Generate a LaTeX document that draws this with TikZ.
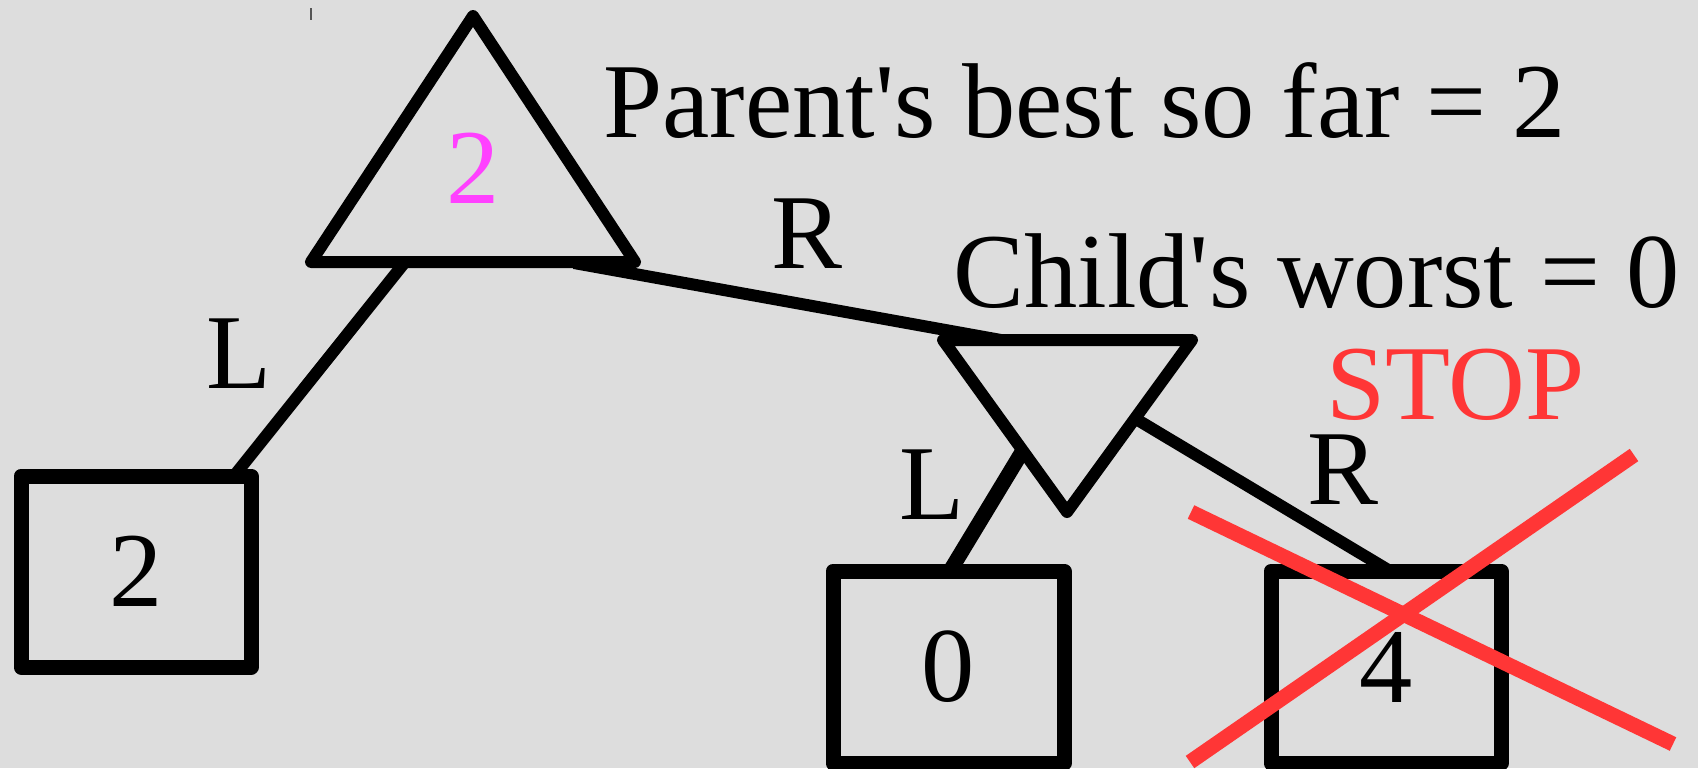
\documentclass[tikz,border=0pt]{standalone}
\usepackage{fontspec}
\newfontfamily\lib{Liberation Serif}
\definecolor{bg}{HTML}{DDDDDD}
\definecolor{mag}{HTML}{FF40FF}
\definecolor{stopred}{HTML}{FF3636}
\definecolor{tickgray}{HTML}{555555}
\begin{document}
\begin{tikzpicture}[x=0.5pt,y=-0.5pt,
  big/.style={font=\lib\fontsize{53.2}{60}\selectfont, inner sep=0pt},
  box/.style={big, draw, line width=7.5pt, line join=round},
  tri/.style={draw, line width=6pt, line join=round},
  edge/.style={line width=6pt},
  thickedge/.style={line width=7.5pt},
  redx/.style={draw=stopred, line width=7.5pt}]
\fill[bg] (0,0) rectangle (1698,768);
\useasboundingbox (0,0) rectangle (1698,768);

% tick mark
\coordinate (tk1) at (311,8);
\coordinate (tk2) at (311,20);
\draw[line width=1pt, tickgray] (tk1) -- (tk2);

% boxes
\node[box, minimum width=115pt, minimum height=95.5pt] (b2) at (136,571.5) {2};
\node[box, minimum width=115.5pt, minimum height=96pt] (b0) at (948.5,667) {0};
\node[box, minimum width=115pt, minimum height=96pt] (b4) at (1386,667) {4};

% triangle 1
\coordinate (t1a) at (473,16);
\coordinate (t1l) at (311,262);
\coordinate (t1r) at (635,262);
% triangle 2
\coordinate (t2l) at (943,340);
\coordinate (t2r) at (1192,340);
\coordinate (t2b) at (1067,512);

% edges
\coordinate (e1s) at (405,262);
\coordinate (e1t) at (234,476);
\draw[edge] (e1s) -- (e1t);
\coordinate (e2s) at (574,263);
\coordinate (e2t) at (1001,340);
\draw[edge] (e2s) -- (e2t);
\coordinate (e3s) at (1022,452);
\coordinate (e3t) at (950,571);
\draw[thickedge] (e3s) -- (e3t);
\coordinate (e4s) at (1136,419);
\coordinate (e4t) at (1390,571);
\draw[edge] (e4s) -- (e4t);

\draw[tri] (t1a) -- (t1r) -- (t1l) -- cycle;
\draw[tri] (t2l) -- (t2r) -- (t2b) -- cycle;
\node[big, text=mag] (v1) at (473,168) {2};

% labels
\node[big, anchor=base west] (pbest) at (603,137) {Parent's best so far = 2};
\node[big, anchor=base west] (rup) at (771,268) {R};
\node[big, anchor=base west] (cworst) at (953,307) {Child's worst = 0};
\node[big, anchor=base west] (lup) at (206,388) {L};
\node[big, anchor=base west] (llow) at (899,519) {L};
\node[big, anchor=base west] (rlow) at (1307,504) {R};
\node[big, anchor=base west, text=stopred] (stop) at (1326,419) {STOP};

% red cross
\coordinate (x1a) at (1191,512);
\coordinate (x1b) at (1673,744);
\coordinate (x2a) at (1190,762);
\coordinate (x2b) at (1634,455);
\draw[redx] (x1a) -- (x1b);
\draw[redx] (x2a) -- (x2b);
\end{tikzpicture}
\end{document}
